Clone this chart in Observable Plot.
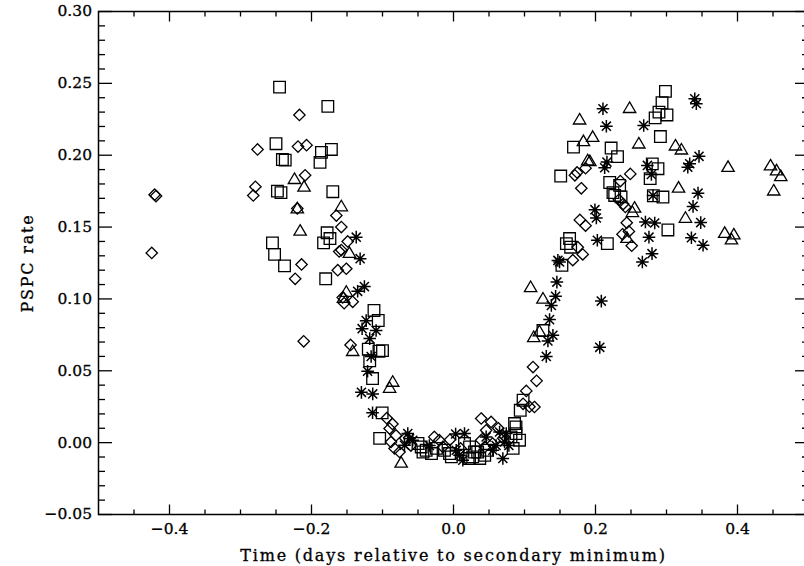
<!DOCTYPE html>
<html>
<head>
<meta charset="utf-8">
<script src="https://cdn.jsdelivr.net/npm/d3@7"></script>
<script src="https://cdn.jsdelivr.net/npm/@observablehq/plot@0.6"></script>
<style>
  html, body { margin: 0; padding: 0; background: #fff; }
  #chart svg { display: block; }
  #chart svg text { stroke: black; stroke-width: 0.3px; }
  #chart g[aria-label="x-axis label"] text,
  #chart g[aria-label="y-axis label"] text { font-size: 16px; letter-spacing: 1.8px; }
</style>
</head>
<body>
<div id="chart"></div>
<script>
// ---- data: [time (days rel. to secondary minimum), PSPC rate] ----
const diamonds = [
  [-0.421,0.1725],[-0.419,0.1716],[-0.425,0.132],
  [-0.276,0.204],[-0.279,0.178],[-0.282,0.172],
  [-0.217,0.228],[-0.219,0.206],[-0.207,0.207],[-0.209,0.186],[-0.220,0.163],
  [-0.165,0.158],[-0.158,0.150],[-0.149,0.140],[-0.158,0.134],[-0.161,0.133],
  [-0.214,0.124],[-0.223,0.114],[-0.163,0.120],[-0.151,0.121],
  [-0.156,0.101],[-0.154,0.097],[-0.142,0.098],
  [-0.211,0.0705],[-0.145,0.068],
  [-0.094,0.017],[-0.086,0.013],[-0.090,0.0098],[-0.081,0.005],[-0.088,0.0005],[-0.083,-0.004],[-0.076,-0.0065],
  [-0.027,0.004],[-0.020,0.0017],[-0.015,-0.003],
  [0.039,0.0168],[0.053,0.0144],[0.046,0.0086],[0.039,0.0017],[0.044,-0.003],[0.055,-0.0006],
  [0.098,0.027],[0.107,0.025],[0.114,0.0248],[0.112,0.0526],[0.117,0.043],[0.1025,0.036],
  [0.171,0.186],[0.174,0.188],[0.186,0.191],[0.180,0.177],
  [0.249,0.187],[0.235,0.182],[0.233,0.169],[0.239,0.166],[0.242,0.164],
  [0.178,0.155],[0.186,0.151],[0.244,0.153],[0.247,0.147],[0.238,0.145],[0.251,0.137],
  [0.175,0.136],[0.182,0.131],[0.168,0.127],
  [-0.060,-0.002],[-0.005,0.002],[0.010,-0.004],[0.070,0.003],[0.063,0.010],[-0.068,0.003]
];
const squares = [
  [-0.245,0.2474],[-0.177,0.234],[-0.250,0.208],[-0.186,0.202],[-0.172,0.204],
  [-0.241,0.197],[-0.237,0.1966],[-0.188,0.195],[-0.248,0.175],[-0.243,0.174],[-0.170,0.1746],
  [-0.178,0.146],[-0.174,0.142],[-0.183,0.139],[-0.255,0.139],[-0.252,0.131],[-0.238,0.123],[-0.180,0.114],
  [-0.112,0.092],[-0.106,0.085],[-0.120,0.065],[-0.105,0.0636],[-0.100,0.064],[-0.118,0.057],[-0.114,0.0446],
  [-0.1005,0.0207],[-0.104,0.003],
  [-0.050,-0.0006],[-0.0455,-0.003],[-0.0385,-0.0053],[-0.043,-0.0065],[-0.031,-0.0076],[-0.024,-0.004],
  [-0.0127,-0.0053],[-0.0056,-0.0076],[-0.003,-0.0099],
  [0.0155,-0.0006],[0.0226,-0.003],[0.0296,-0.0065],[0.027,-0.0099],[0.0226,-0.011],[0.034,-0.0065],
  [0.044,-0.0088],[0.048,-0.0053],[0.037,-0.011],
  [0.086,0.0133],[0.088,0.011],[0.088,0.0063],[0.081,0.004],[0.093,0.0017],[0.084,-0.004],
  [0.098,0.0295],[0.094,0.0225],[0.126,0.078],
  [0.151,0.1855],[0.169,0.2056],[0.222,0.205],[0.231,0.199],[0.220,0.181],[0.234,0.179],
  [0.2246,0.174],[0.227,0.172],[0.236,0.171],
  [0.280,0.194],[0.288,0.1906],[0.277,0.1837],[0.2815,0.1718],[0.295,0.1709],
  [0.2985,0.2444],[0.2937,0.2365],[0.2894,0.230],[0.3007,0.228],[0.284,0.226],[0.2914,0.213],
  [0.302,0.148],[0.2167,0.1385],[0.1635,0.142],[0.159,0.1385],[0.165,0.136],[0.1527,0.1234]
];
const triangles = [
  [-0.224,0.184],[-0.2105,0.1787],[-0.220,0.1635],[-0.158,0.165],[-0.216,0.148],
  [-0.1466,0.1326],[-0.151,0.1055],[-0.155,0.1013],[-0.142,0.0643],
  [-0.0856,0.0429],[-0.090,0.0387],[-0.0737,-0.0134],
  [0.1086,0.1088],[0.126,0.1008],[0.121,0.078],[0.113,0.074],
  [0.1776,0.2254],[0.248,0.2334],[0.196,0.2133],[0.183,0.2103],[0.261,0.2087],
  [0.3126,0.2073],[0.321,0.2045],[0.189,0.197],[0.192,0.1964],
  [0.3867,0.1924],[0.4465,0.1934],[0.455,0.190],[0.461,0.186],[0.451,0.176],
  [0.317,0.178],[0.255,0.164],[0.252,0.161],[0.3267,0.157],[0.2443,0.143],
  [0.382,0.1465],[0.3948,0.1454],[0.3915,0.142]
];
const asterisks = [
  [-0.137,0.143],[-0.1315,0.128],[-0.1255,0.1086],[-0.135,0.1053],
  [-0.123,0.0849],[-0.1287,0.0793],[-0.109,0.078],[-0.118,0.0724],
  [-0.116,0.0599],[-0.121,0.0497],[-0.1297,0.035],[-0.1138,0.0339],[-0.114,0.0208],
  [-0.0644,0.0063],[-0.062,0.0029],[-0.069,-0.0018],[-0.0574,0.0017],
  [0.0038,-0.0053],[0.0085,-0.0088],[0.0131,-0.0122],[0.0155,0.0063],
  [0.046,0.004],[0.0554,-0.0053],[0.0649,0.0074],[0.0743,0.0063],[0.0719,0.0005],[0.0695,-0.011],
  [-0.034,-0.002],[0.003,0.006],[0.060,-0.002],[0.078,-0.002],
  [0.1307,0.060],[0.133,0.0707],[0.140,0.0747],[0.1353,0.0856],[0.1378,0.0955],
  [0.1438,0.1018],[0.1456,0.1117],[0.147,0.1268],[0.1494,0.1257],
  [0.2082,0.0985],[0.206,0.0663],
  [0.2105,0.2323],[0.2153,0.2202],[0.2679,0.2207],[0.3398,0.2393],[0.342,0.2358],
  [0.3458,0.1992],[0.3327,0.1941],[0.330,0.1917],[0.2161,0.1952],[0.2129,0.1913],
  [0.2731,0.1929],[0.2787,0.1866],[0.281,0.172],[0.3444,0.1736],[0.3374,0.1644],
  [0.1992,0.1621],[0.2012,0.1563],[0.2703,0.1535],[0.2834,0.1528],[0.3482,0.1531],
  [0.2753,0.143],[0.3351,0.1426],[0.3515,0.1373],[0.2026,0.1408],
  [0.2796,0.1315],[0.266,0.1257]
];

// ---- axis ticks ----
const xTicks = [-0.4, -0.2, 0.0, 0.2, 0.4];
const xMinorTicks = [-0.45,-0.35,-0.3,-0.25,-0.15,-0.1,-0.05,0.05,0.1,0.15,0.25,0.3,0.35,0.45];
const yTicks = [-0.05, 0.00, 0.05, 0.10, 0.15, 0.20, 0.25, 0.30];
const yMinorTicks = [-0.04,-0.03,-0.02,-0.01,0.01,0.02,0.03,0.04,0.06,0.07,0.08,0.09,
  0.11,0.12,0.13,0.14,0.16,0.17,0.18,0.19,0.21,0.22,0.23,0.24,0.26,0.27,0.28,0.29];
const xLabel = "Time (days relative to secondary minimum)";
const yLabel = "PSPC rate";

// ---- IDL-like plot symbols ----
const rad = size => Math.sqrt(size / Math.PI);
const symSquare = {draw(c, s) { const r = rad(s); c.moveTo(-r,-r); c.lineTo(r,-r); c.lineTo(r,r); c.lineTo(-r,r); c.closePath(); }};
const symDiamond = {draw(c, s) { const r = rad(s); c.moveTo(0,-r); c.lineTo(r,0); c.lineTo(0,r); c.lineTo(-r,0); c.closePath(); }};
const symTriangle = {draw(c, s) { const r = rad(s); const h = r * 0.85; c.moveTo(0,-h); c.lineTo(r,h); c.lineTo(-r,h); c.closePath(); }};
const symAsterisk = {draw(c, s) { const r = rad(s); const d = r * 0.72;
  c.moveTo(-r,0); c.lineTo(r,0); c.moveTo(0,-r); c.lineTo(0,r);
  c.moveTo(-d,-d); c.lineTo(d,d); c.moveTo(-d,d); c.lineTo(d,-d); }};

const fmtX = d3.format(".1f");
const fmtY = d3.format(".2f");
const dotOpts = {x: d => d[0], y: d => d[1], fill: "none", stroke: "black", strokeWidth: 1.3};

const chart = Plot.plot({
  width: 804,
  height: 566,
  marginLeft: 98,
  marginRight: -4,
  marginTop: 11,
  marginBottom: 52,
  x: {domain: [-0.5, 0.5]},
  y: {domain: [-0.05, 0.30]},
  style: {fontFamily: "'DejaVu Serif', serif", fontSize: "15.5px", background: "white", color: "black"},
  marks: [
    Plot.dot(diamonds, {...dotOpts, symbol: symDiamond, r: 5.7}),
    Plot.dot(squares, {...dotOpts, symbol: symSquare, r: 5.8}),
    Plot.dot(triangles, {...dotOpts, symbol: symTriangle, r: 6.2}),
    Plot.dot(asterisks, {...dotOpts, symbol: symAsterisk, r: 6.3, strokeWidth: 1.5}),
    Plot.frame({stroke: "black", strokeWidth: 1.5}),
    Plot.axisX({anchor: "bottom", ticks: xTicks, tickFormat: fmtX, tickSize: -9.5, tickPadding: 17.5, strokeWidth: 1.3,
      label: xLabel, labelAnchor: "center", labelOffset: 46, labelArrow: "none"}),
    Plot.axisX({anchor: "bottom", ticks: xMinorTicks, tickFormat: () => "", tickSize: -4.5, strokeWidth: 1.3, label: null}),
    Plot.axisX({anchor: "top", ticks: xTicks, tickFormat: () => "", tickSize: -9.5, strokeWidth: 1.3, label: null}),
    Plot.axisX({anchor: "top", ticks: xMinorTicks, tickFormat: () => "", tickSize: -4.5, strokeWidth: 1.3, label: null}),
    Plot.axisY({anchor: "left", ticks: yTicks, tickFormat: fmtY, tickSize: -14, tickPadding: 20.5, strokeWidth: 1.3,
      label: yLabel, labelAnchor: "center", labelOffset: 77, labelArrow: "none"}),
    Plot.axisY({anchor: "left", ticks: yMinorTicks, tickFormat: () => "", tickSize: -7, strokeWidth: 1.3, label: null}),
    Plot.axisY({anchor: "right", ticks: yTicks, tickFormat: () => "", tickSize: -14, strokeWidth: 1.3, label: null}),
    Plot.axisY({anchor: "right", ticks: yMinorTicks, tickFormat: () => "", tickSize: -7, strokeWidth: 1.3, label: null})
  ]
});
document.getElementById("chart").appendChild(chart);
</script>
</body>
</html>
